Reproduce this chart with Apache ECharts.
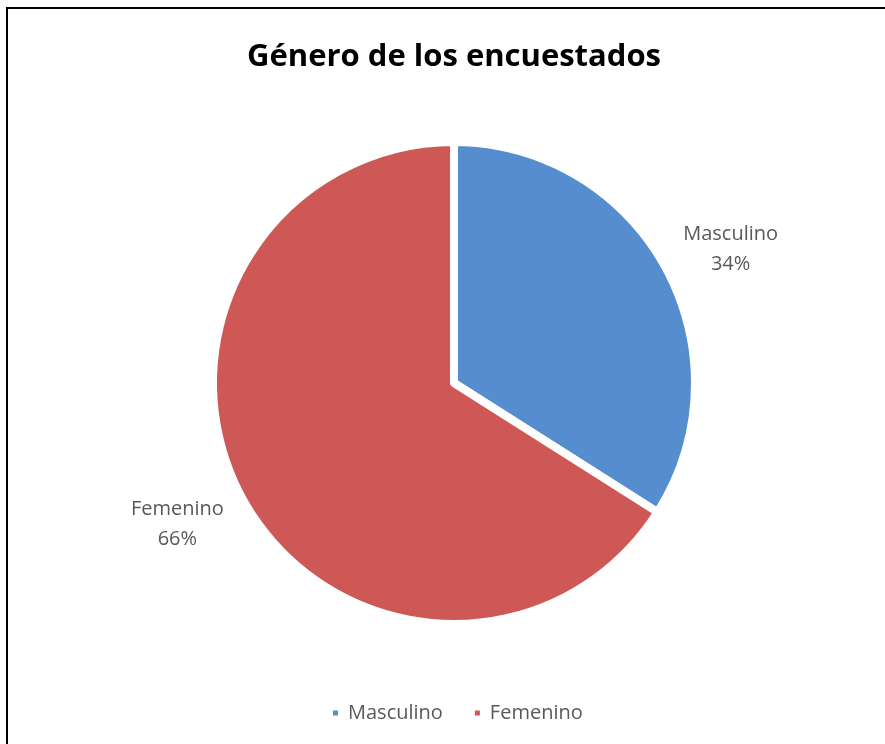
<!DOCTYPE html>
<html>
<head>
<meta charset="utf-8">
<script src="https://cdn.jsdelivr.net/npm/echarts@6/dist/echarts.min.js"></script>
<style>
  html, body { margin: 0; padding: 0; background: #fff; }
  #myPieChart { width: 885px; height: 744px; }
  #frame {
    position: absolute; left: 6px; top: 7px; right: -10px; bottom: -10px;
    border-left: 2px solid #000; border-top: 2px solid #000;
    pointer-events: none;
  }
</style>
</head>
<body>
<div id="myPieChart"></div>
<div id="frame"></div>
<script>
const categories = ['Masculino', 'Femenino'];
const values = [34, 66];
const colors = ['#558DCF', '#CD5855'];

const FONT = "'Open Sans', sans-serif";

let option = {
  animation: false,
  title: {
    text: 'Género de los encuestados',
    left: 242,
    top: 37,
    textStyle: { fontFamily: FONT, fontWeight: 'bold', fontSize: 31, color: '#000' }
  },
  legend: {
    data: categories,
    bottom: 16,
    left: 326,
    icon: 'rect',
    itemWidth: 7,
    itemHeight: 7,
    itemGap: 30,
    textStyle: { fontFamily: FONT, fontSize: 20, color: '#595959', padding: [0, 0, 0, 4] }
  },
  series: [{
    type: 'pie',
    center: [454, 383],
    radius: 241,
    startAngle: 90,
    clockwise: true,
    avoidLabelOverlap: false,
    itemStyle: { borderColor: '#fff', borderWidth: 8 },
    label: {
      position: 'outside',
      formatter: '{b}\n{d}%',
      fontFamily: FONT,
      fontSize: 20,
      lineHeight: 30,
      color: '#595959',
      distanceToLabelLine: 26
    },
    labelLine: { show: false, length: 45, length2: 0 },
    labelLayout: { align: 'center', verticalAlign: 'middle', dy: 4 },
    data: categories.map((name, i) => ({
      name: name,
      value: values[i],
      itemStyle: { color: colors[i] }
    }))
  }]
};

let myChart = echarts.init(document.querySelector('#myPieChart'));
myChart.setOption(option);
</script>
</body>
</html>
